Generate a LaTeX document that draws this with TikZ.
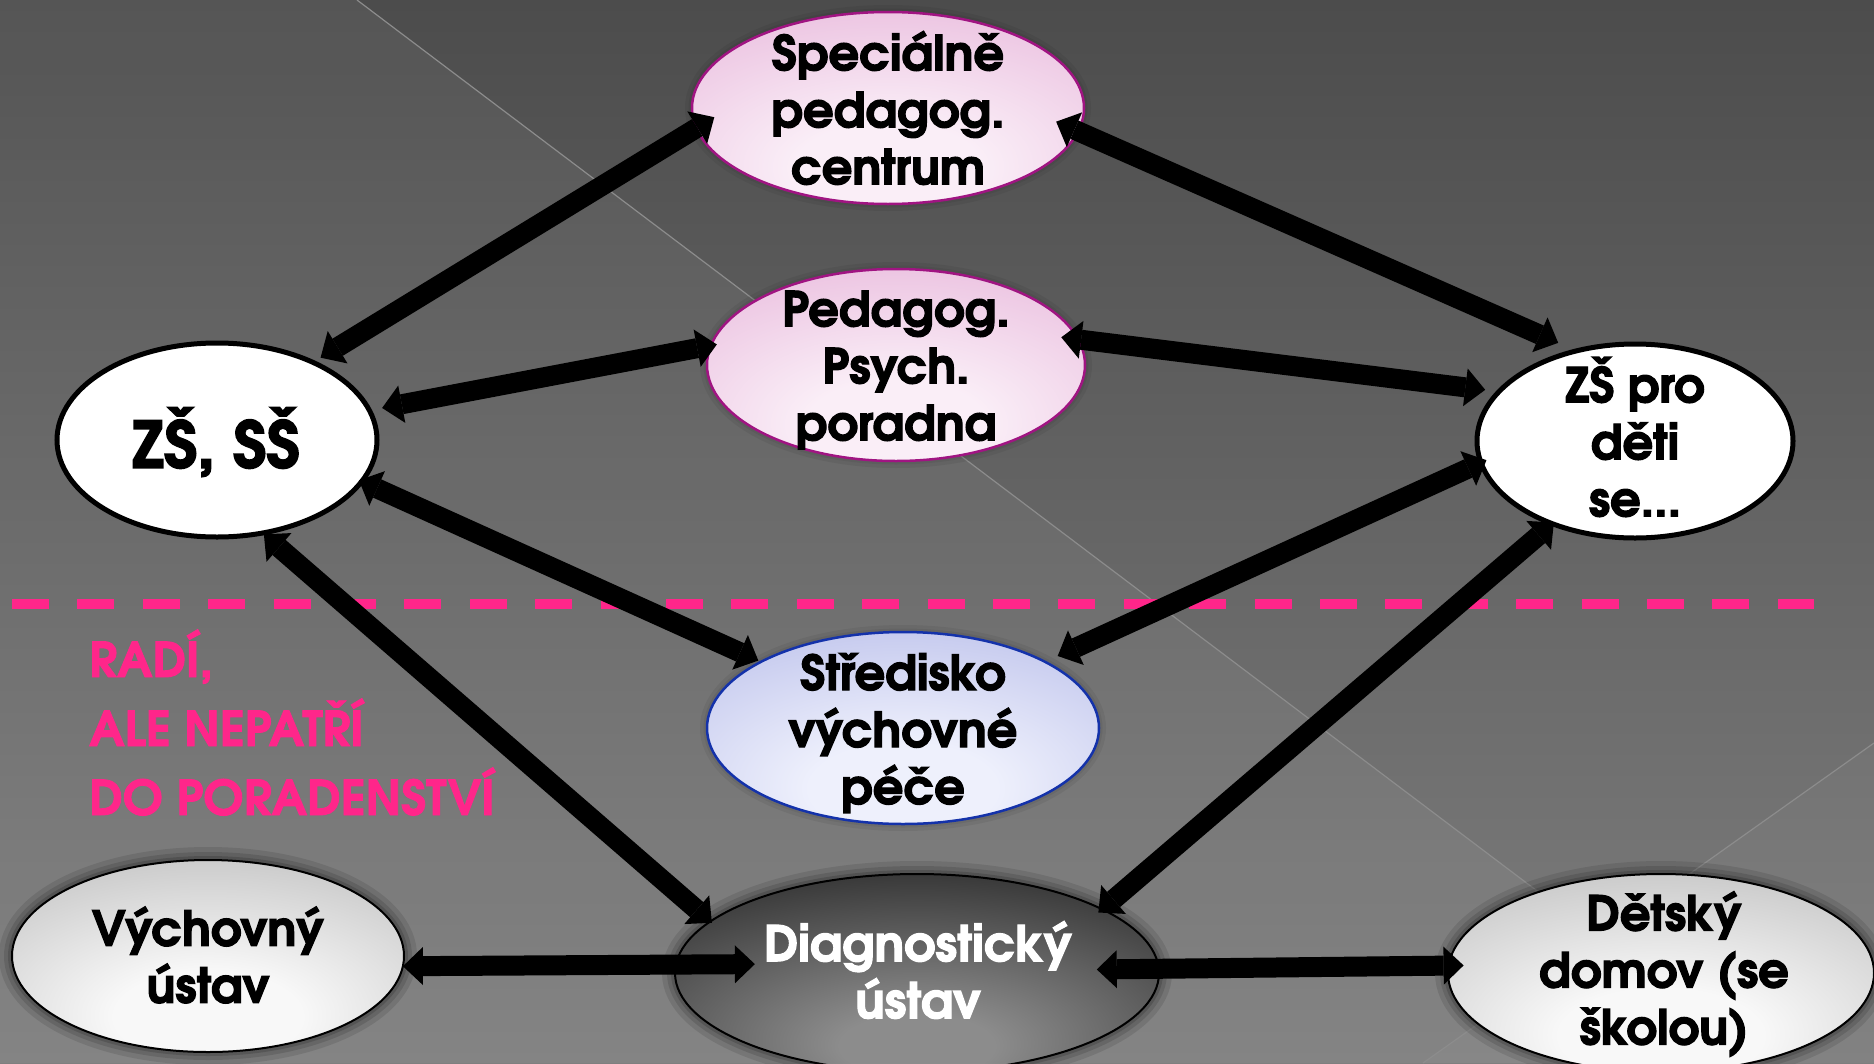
\documentclass[tikz,border=0pt]{standalone}
\usepackage{fontspec}
\setmainfont{texgyreadventor}[Extension=.otf, UprightFont=*-regular, BoldFont=*-bold, ItalicFont=*-italic, BoldItalicFont=*-bolditalic]
\newfontfamily\nodefont{texgyreadventor-bold}[Extension=.otf, FakeBold=2.5]
\newfontfamily\notefont{texgyreadventor-bold}[Extension=.otf, FakeBold=1.8]
\usetikzlibrary{shapes.geometric, arrows.meta, calc}

\definecolor{bgtop}{HTML}{4C4C4C}
\definecolor{bgbot}{HTML}{7E7E7E}
\definecolor{bgline}{RGB}{140,140,140}
\definecolor{hotpink}{RGB}{255,38,138}
\definecolor{pinkin}{RGB}{250,238,247}
\definecolor{pinkout}{RGB}{226,166,210}
\definecolor{pinkedge}{RGB}{160,20,130}
\definecolor{bluein}{RGB}{238,240,252}
\definecolor{blueout}{RGB}{168,174,228}
\definecolor{blueedge}{RGB}{20,50,170}
\definecolor{grayin}{RGB}{248,248,248}
\definecolor{grayout}{RGB}{165,165,165}
\definecolor{darkin}{RGB}{140,140,140}
\definecolor{darkout}{RGB}{8,8,8}

\pgfdeclareradialshading{pinkshade}{\pgfpoint{0bp}{-18bp}}{color(0bp)=(pinkin); color(12bp)=(pinkin); color(56bp)=(pinkout); color(100bp)=(pinkout)}
\pgfdeclareradialshading{blueshade}{\pgfpoint{0bp}{-18bp}}{color(0bp)=(bluein); color(12bp)=(bluein); color(56bp)=(blueout); color(100bp)=(blueout)}
\pgfdeclareradialshading{grayshade}{\pgfpoint{0bp}{-18bp}}{color(0bp)=(grayin); color(12bp)=(grayin); color(58bp)=(grayout); color(100bp)=(grayout)}
\pgfdeclareradialshading{darkshade}{\pgfpoint{0bp}{-20bp}}{color(0bp)=(darkin); color(8bp)=(darkin); color(55bp)=(darkout); color(100bp)=(darkout)}

\begin{document}
\begin{tikzpicture}[x=1pt, y=-1pt,
  ell/.style={ellipse, inner sep=0pt, outer sep=0pt},
  softglow/.style={preaction={draw=black, draw opacity=0.06, line width=14pt},
                   preaction={draw=black, draw opacity=0.06, line width=7pt}},
  darkglow/.style={preaction={draw=black, draw opacity=0.10, line width=26pt},
                   preaction={draw=black, draw opacity=0.12, line width=16pt},
                   preaction={draw=black, draw opacity=0.15, line width=8pt}},
  pinkn/.style={ell, softglow, shade, shading=pinkshade, draw=pinkedge, line width=2.5pt},
  bluen/.style={ell, softglow, shade, shading=blueshade, draw=blueedge, line width=2.5pt},
  whiten/.style={ell, fill=white, draw=black, line width=5pt},
  grayn/.style={ell, darkglow, shade, shading=grayshade, draw=black, line width=2pt},
  darkn/.style={ell, darkglow, shade, shading=darkshade, draw=black, line width=2pt},
  txt/.style={align=center, inner sep=0pt, font=\nodefont\fontsize{48}{57}\selectfont, text=black},
  bigtxt/.style={align=center, inner sep=0pt, font=\nodefont\fontsize{49}{57}\selectfont, text=white},
  hugetxt/.style={align=center, inner sep=0pt, font=\nodefont\fontsize{64}{70}\selectfont, text=black},
  notetxt/.style={align=left, inner sep=0pt, font=\notefont\fontsize{48}{69}\selectfont, text=hotpink},
  dbl/.style={line width=20pt, {Triangle[width=38pt,length=20pt,line width=0pt]}-{Triangle[width=38pt,length=20pt,line width=0pt]}},
  divider/.style={draw=hotpink, line width=10pt, dash pattern=on 37pt off 28.4pt}
]
% background
\shade[top color=bgtop, bottom color=bgbot] (0,0) rectangle (1874,1063);
\useasboundingbox (0,0) rectangle (1874,1063);
\fill[white, opacity=0.05] (0,0) -- (357,0) -- (1765,1063) -- (0,1063) -- cycle;
\fill[white, opacity=0.03] (1874,743) -- (1874,1063) -- (1423,1063) -- cycle;
\draw[bgline, line width=1.2pt] (357,0) -- (1765,1063);
\draw[bgline, line width=1.2pt] (1874,743) -- (1423,1063);

% divider
\coordinate (dl) at (12,604);
\coordinate (dr) at (1814,604);
\draw[divider] (dl) -- (dr);

% note
\node[notetxt, anchor=base west] (note) at (89,815) {RADÍ,\\ALE NEPATŘÍ\\DO PORADENSTVÍ};

% nodes
\node[pinkn, minimum width=392pt, minimum height=192pt] (spc) at (888,108) {};
\node[pinkn, minimum width=378pt, minimum height=192pt] (ppp) at (896,365) {};
\node[whiten, minimum width=320pt, minimum height=194pt] (zs) at (217,440) {};
\node[whiten, minimum width=316pt, minimum height=194pt] (zspro) at (1635,441) {};
\node[bluen, minimum width=392pt, minimum height=192pt] (str) at (903,728) {};
\node[grayn, minimum width=392pt, minimum height=192pt] (vych) at (208,956) {};
\node[darkn, minimum width=484pt, minimum height=198pt] (diag) at (917,973) {};
\node[grayn, minimum width=426pt, minimum height=198pt] (det) at (1661,973) {};

\node[txt] (spct) at (888,108) {Speciálně\\pedagog.\\centrum};
\node[txt] (pppt) at (896,370) {Pedagog.\\Psych.\\poradna};
\node[hugetxt] (zst) at (216,442) {ZŠ, SŠ};
\node[txt] (zsprot) at (1635,437) {ZŠ pro\\děti\\se...};
\node[txt] (strt) at (903,733) {Středisko\\výchovné\\péče};
\node[txt] (vycht) at (208,955) {Výchovný\\ústav};
\node[bigtxt] (diagt) at (918,970) {Diagnostický\\ústav};
\node[txt] (dett) at (1664,974) {Dětský\\domov (se\\školou)};

% connectors
\draw[dbl, shorten <=9pt, shorten >=-21pt] (zs.39.5) -- (spc.186.4);
\draw[dbl, shorten <=-24pt, shorten >=20pt] (spc.-7.6) -- (zspro.123.2);
\draw[dbl, shorten <=13pt, shorten >=-6pt] (zs.11) -- (ppp.174.3);
\draw[dbl, shorten <=-17pt, shorten >=14pt] (ppp.8.3) -- (zspro.160.2);
\draw[dbl, shorten <=-3pt, shorten >=3pt] (zs.-16.6) -- (str.155.96);
\draw[dbl, shorten <=-6pt, shorten >=14pt] (zspro.188.1) -- (str.25.4);
\draw[dbl, shorten <=2pt, shorten >=-2pt] (zs.-64.2) -- (diag.166);
\draw[dbl, shorten <=-2pt, shorten >=-5pt] (zspro.225.7) -- (diag.19.9);
\draw[dbl, shorten <=0pt, shorten >=-79pt] (vych.-3.5) -- (diag.178.8);
\draw[dbl, shorten <=-62pt, shorten >=-15pt] (diag.1.2) -- (det.178.55);
\end{tikzpicture}
\end{document}
